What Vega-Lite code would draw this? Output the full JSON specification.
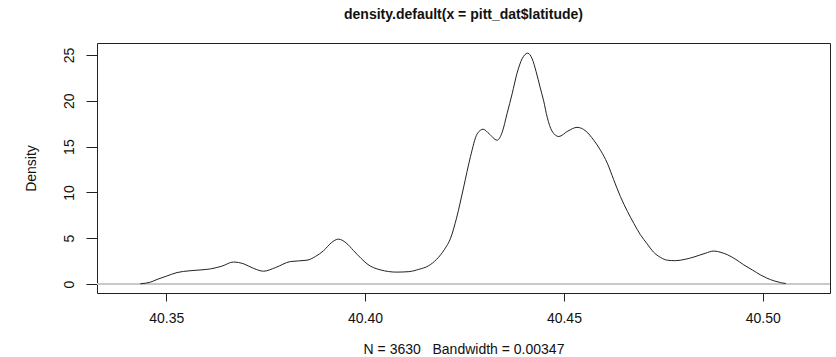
{
  "$schema": "https://vega.github.io/schema/vega-lite/v6.json",
  "width": 733,
  "height": 250,
  "autosize": {"type": "none"},
  "padding": {"left": 97, "top": 43, "right": 6, "bottom": 64},
  "background": "white",
  "config": {
    "font": "Liberation Sans",
    "view": {"stroke": "#222222", "strokeWidth": 1},
    "axis": {"grid": false, "domain": false, "tickColor": "#222222", "labelColor": "#111111", "titleColor": "#111111", "labelFont": "Liberation Sans", "titleFont": "Liberation Sans", "labelFontSize": 14, "titleFontSize": 14, "titleFontWeight": "normal"}
  },
  "title": {"text": "density.default(x = pitt_dat$latitude)", "font": "Liberation Sans", "fontSize": 14, "fontWeight": "bold", "color": "#111111", "anchor": "middle", "offset": 21},
  "data": {
    "values": [
      {"lat": 40.3435, "density": 0.03},
      {"lat": 40.3460, "density": 0.2},
      {"lat": 40.3477, "density": 0.5},
      {"lat": 40.3500, "density": 0.85},
      {"lat": 40.3527, "density": 1.25},
      {"lat": 40.3560, "density": 1.45},
      {"lat": 40.3590, "density": 1.55},
      {"lat": 40.3611, "density": 1.65},
      {"lat": 40.3640, "density": 1.95},
      {"lat": 40.3669, "density": 2.4},
      {"lat": 40.3695, "density": 2.2},
      {"lat": 40.3720, "density": 1.7},
      {"lat": 40.3745, "density": 1.4},
      {"lat": 40.3775, "density": 1.8},
      {"lat": 40.3812, "density": 2.45},
      {"lat": 40.3854, "density": 2.6},
      {"lat": 40.3875, "density": 3.0},
      {"lat": 40.3896, "density": 3.65},
      {"lat": 40.3915, "density": 4.5},
      {"lat": 40.3933, "density": 4.9},
      {"lat": 40.3952, "density": 4.5},
      {"lat": 40.3971, "density": 3.65},
      {"lat": 40.3990, "density": 2.8},
      {"lat": 40.4005, "density": 2.2},
      {"lat": 40.4038, "density": 1.55},
      {"lat": 40.4080, "density": 1.3},
      {"lat": 40.4110, "density": 1.35},
      {"lat": 40.4135, "density": 1.6},
      {"lat": 40.4160, "density": 2.0},
      {"lat": 40.4180, "density": 2.7},
      {"lat": 40.4200, "density": 3.8},
      {"lat": 40.4215, "density": 5.0},
      {"lat": 40.4230, "density": 7.2},
      {"lat": 40.4248, "density": 10.6},
      {"lat": 40.4265, "density": 13.9},
      {"lat": 40.4282, "density": 16.4},
      {"lat": 40.4297, "density": 16.9},
      {"lat": 40.4312, "density": 16.4},
      {"lat": 40.4332, "density": 15.7},
      {"lat": 40.4345, "density": 16.6},
      {"lat": 40.4357, "density": 18.6},
      {"lat": 40.4370, "density": 20.8},
      {"lat": 40.4382, "density": 23.0},
      {"lat": 40.4395, "density": 24.6},
      {"lat": 40.4409, "density": 25.2},
      {"lat": 40.4420, "density": 24.6},
      {"lat": 40.4430, "density": 23.2},
      {"lat": 40.4440, "density": 21.5},
      {"lat": 40.4449, "density": 20.0},
      {"lat": 40.4458, "density": 18.2},
      {"lat": 40.4470, "density": 16.7},
      {"lat": 40.4487, "density": 16.1},
      {"lat": 40.4510, "density": 16.7},
      {"lat": 40.4533, "density": 17.1},
      {"lat": 40.4555, "density": 16.7},
      {"lat": 40.4575, "density": 15.7},
      {"lat": 40.4592, "density": 14.6},
      {"lat": 40.4609, "density": 13.2},
      {"lat": 40.4625, "density": 11.4},
      {"lat": 40.4642, "density": 9.55},
      {"lat": 40.4660, "density": 7.9},
      {"lat": 40.4676, "density": 6.6},
      {"lat": 40.4692, "density": 5.4},
      {"lat": 40.4709, "density": 4.4},
      {"lat": 40.4725, "density": 3.5},
      {"lat": 40.4743, "density": 2.9},
      {"lat": 40.4760, "density": 2.6},
      {"lat": 40.4780, "density": 2.55},
      {"lat": 40.4805, "density": 2.7},
      {"lat": 40.4827, "density": 2.95},
      {"lat": 40.4855, "density": 3.35},
      {"lat": 40.4877, "density": 3.6},
      {"lat": 40.4895, "density": 3.45},
      {"lat": 40.4911, "density": 3.2},
      {"lat": 40.4930, "density": 2.75},
      {"lat": 40.4952, "density": 2.1},
      {"lat": 40.4975, "density": 1.5},
      {"lat": 40.4994, "density": 1.0},
      {"lat": 40.5010, "density": 0.65},
      {"lat": 40.5028, "density": 0.35},
      {"lat": 40.5045, "density": 0.15},
      {"lat": 40.5058, "density": 0.05}
    ]
  },
  "layer": [
    {
      "mark": {"type": "rule", "color": "#c8c8c8", "strokeWidth": 1.5},
      "encoding": {"y": {"datum": 0, "type": "quantitative", "scale": {"domain": [-0.98, 26.31], "nice": false, "zero": false}}}
    },
    {
      "mark": {"type": "line", "color": "#222222", "strokeWidth": 1, "interpolate": "monotone"},
      "encoding": {
        "x": {
          "field": "lat", "type": "quantitative",
          "scale": {"domain": [40.3326, 40.5169], "nice": false, "zero": false},
          "axis": {"values": [40.35, 40.40, 40.45, 40.50], "format": ".2f", "tickSize": 8, "labelPadding": 10, "title": "N = 3630\u00a0\u00a0\u00a0Bandwidth = 0.00347", "titlePadding": 17}
        },
        "y": {
          "field": "density", "type": "quantitative",
          "scale": {"domain": [-0.98, 26.31], "nice": false, "zero": false},
          "axis": {"values": [0, 5, 10, 15, 20, 25], "tickSize": 11, "labelAngle": -90, "labelAlign": "center", "labelBaseline": "bottom", "labelPadding": 10, "title": "Density", "titlePadding": 24}
        }
      }
    }
  ]
}
